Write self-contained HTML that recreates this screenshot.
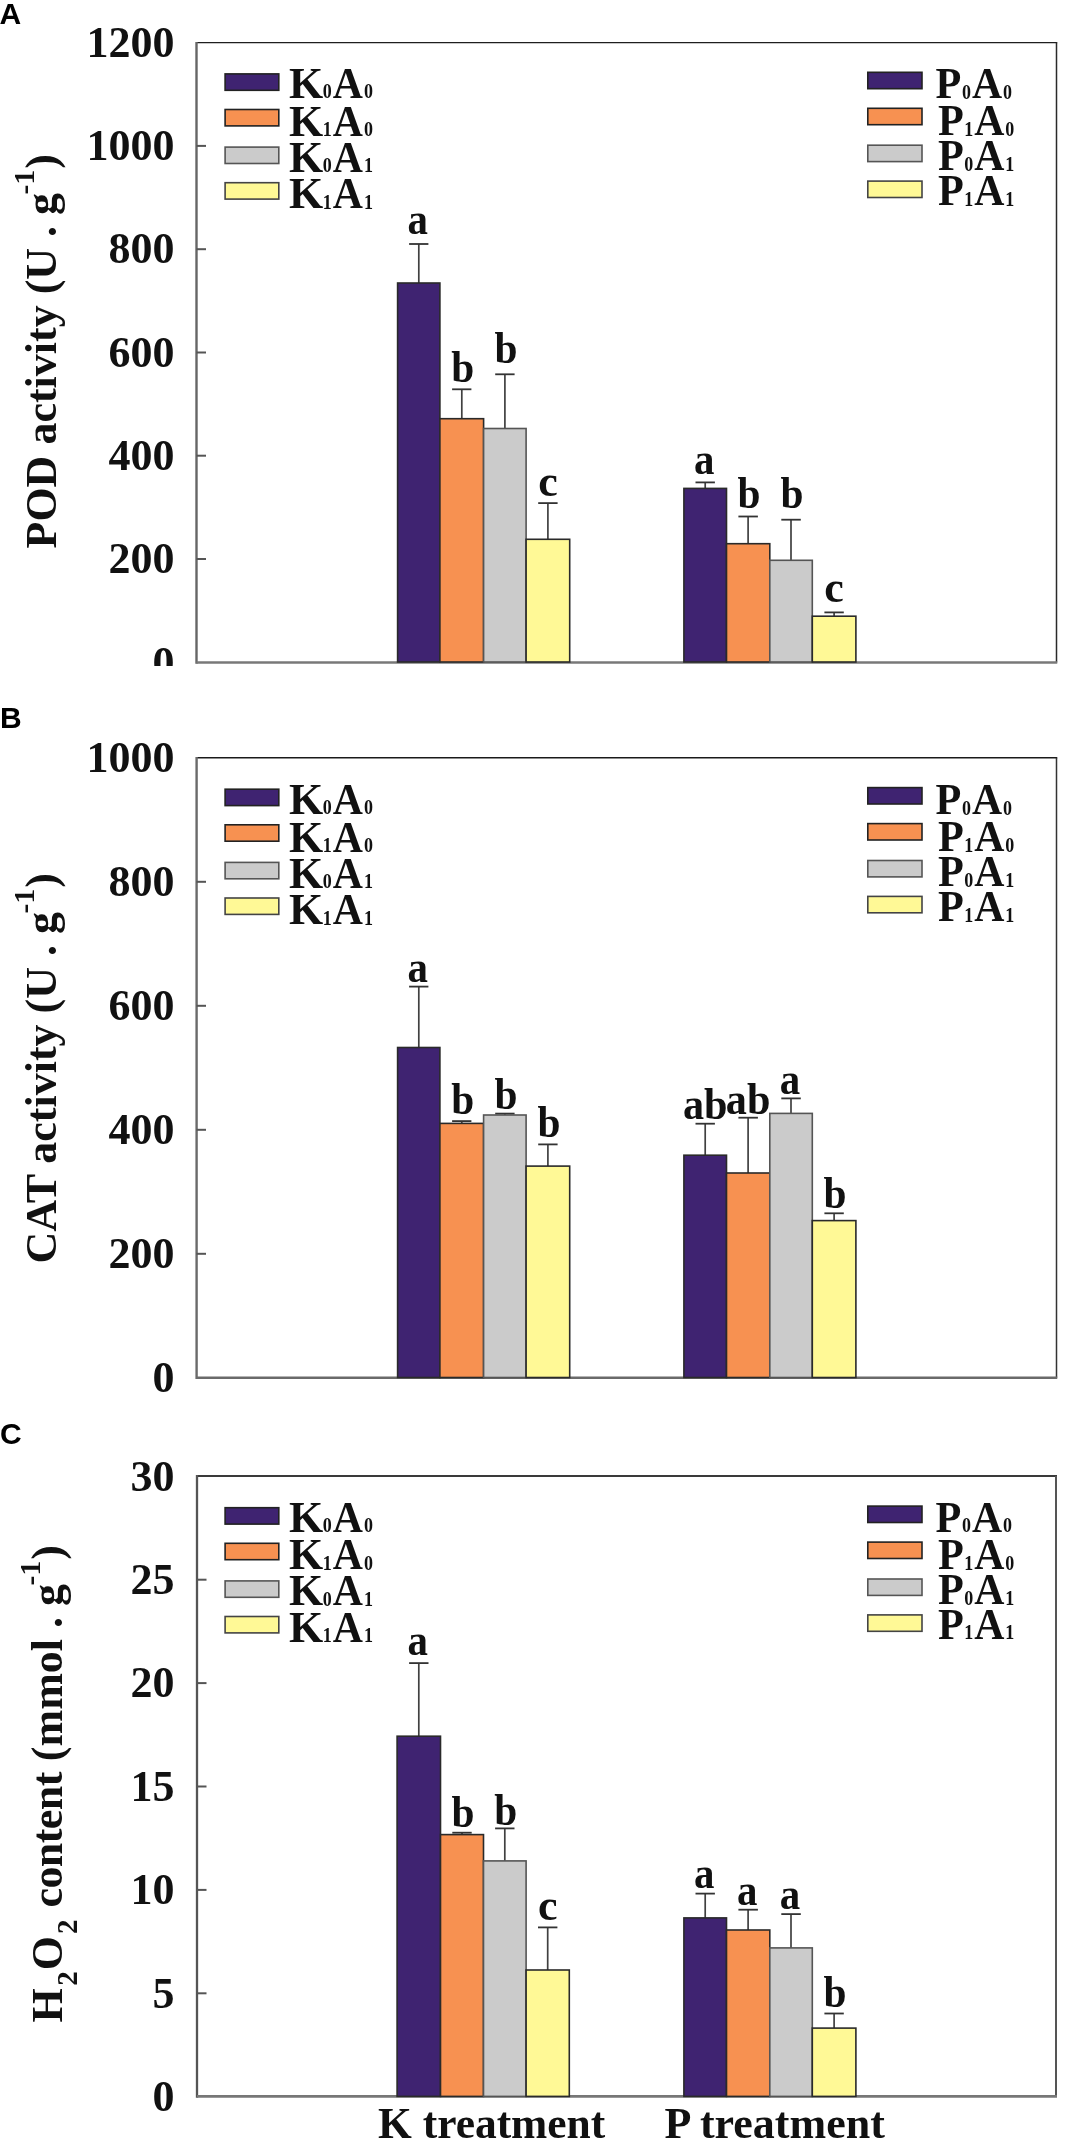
<!DOCTYPE html><html><head><meta charset="utf-8"><style>html,body{margin:0;padding:0;background:#fff;}body{width:1067px;height:2148px;overflow:hidden;}svg{display:block;will-change:transform;}</style></head><body>
<svg width="1067" height="2148" viewBox="0 0 1067 2148" font-family='"Liberation Serif", serif' font-weight="bold" fill="#111">
<text x="-0.6" y="24" font-family='"Liberation Sans", sans-serif' font-size="30" fill="#000">A</text>
<text x="0" y="727.6" font-family='"Liberation Sans", sans-serif' font-size="30" fill="#000">B</text>
<text x="-0.1" y="1443.8" font-family='"Liberation Sans", sans-serif' font-size="30" fill="#000">C</text>
<line x1="196.5" y1="42.6" x2="1057.25" y2="42.6" stroke="#1e1e1e" stroke-width="1.4"/>
<line x1="1056.5" y1="42.6" x2="1056.5" y2="662.5" stroke="#2a2a2a" stroke-width="1.5"/>
<line x1="196.5" y1="41.9" x2="196.5" y2="663.75" stroke="#666" stroke-width="2.4"/>
<line x1="196.5" y1="662.5" x2="1057.25" y2="662.5" stroke="#787878" stroke-width="2.5"/>
<line x1="196.5" y1="145.9" x2="206.0" y2="145.9" stroke="#555" stroke-width="2"/>
<line x1="196.5" y1="249.2" x2="206.0" y2="249.2" stroke="#555" stroke-width="2"/>
<line x1="196.5" y1="352.5" x2="206.0" y2="352.5" stroke="#555" stroke-width="2"/>
<line x1="196.5" y1="455.7" x2="206.0" y2="455.7" stroke="#555" stroke-width="2"/>
<line x1="196.5" y1="559.0" x2="206.0" y2="559.0" stroke="#555" stroke-width="2"/>
<svg x="0" y="0" width="1067" height="666" overflow="hidden">
<text x="174.5" y="56.9" text-anchor="end" font-size="44">1200</text>
<text x="174.5" y="160.1" text-anchor="end" font-size="44">1000</text>
<text x="174.5" y="263.4" text-anchor="end" font-size="44">800</text>
<text x="174.5" y="366.7" text-anchor="end" font-size="44">600</text>
<text x="174.5" y="470.0" text-anchor="end" font-size="44">400</text>
<text x="174.5" y="573.3" text-anchor="end" font-size="44">200</text>
<text x="174.5" y="676.6" text-anchor="end" font-size="44">0</text>
</svg>
<line x1="418.8" y1="244" x2="418.8" y2="283" stroke="#404040" stroke-width="1.7"/>
<line x1="409.1" y1="244" x2="428.4" y2="244" stroke="#333" stroke-width="1.8"/>
<line x1="461.8" y1="389.3" x2="461.8" y2="418.7" stroke="#404040" stroke-width="1.7"/>
<line x1="452.1" y1="389.3" x2="471.4" y2="389.3" stroke="#333" stroke-width="1.8"/>
<line x1="504.9" y1="374.3" x2="504.9" y2="428.5" stroke="#404040" stroke-width="1.7"/>
<line x1="495.2" y1="374.3" x2="514.6" y2="374.3" stroke="#333" stroke-width="1.8"/>
<line x1="547.9" y1="503.1" x2="547.9" y2="539.3" stroke="#404040" stroke-width="1.7"/>
<line x1="538.2" y1="503.1" x2="557.6" y2="503.1" stroke="#333" stroke-width="1.8"/>
<rect x="397.6" y="283" width="42.3" height="379.0" fill="#3f2371" stroke="#2a2a2a" stroke-width="1.6"/>
<rect x="439.9" y="418.7" width="43.7" height="243.3" fill="#f79151" stroke="#2a2a2a" stroke-width="1.6"/>
<rect x="483.6" y="428.5" width="42.5" height="233.5" fill="#cbcbcb" stroke="#555" stroke-width="1.6"/>
<rect x="526.1" y="539.3" width="43.6" height="122.7" fill="#fff996" stroke="#2a2a2a" stroke-width="1.6"/>
<text transform="translate(417.8,233.5) scale(0.93,1)" text-anchor="middle" font-size="44">a</text>
<text transform="translate(462.8,381.5) scale(0.94,1)" text-anchor="middle" font-size="44">b</text>
<text transform="translate(505.9,363.3) scale(0.94,1)" text-anchor="middle" font-size="44">b</text>
<text transform="translate(547.9,495.8) scale(1.0,1)" text-anchor="middle" font-size="44">c</text>
<line x1="705.2" y1="482.4" x2="705.2" y2="488.4" stroke="#404040" stroke-width="1.7"/>
<line x1="695.5" y1="482.4" x2="714.9" y2="482.4" stroke="#333" stroke-width="1.8"/>
<line x1="748.1" y1="516.5" x2="748.1" y2="543.7" stroke="#404040" stroke-width="1.7"/>
<line x1="738.4" y1="516.5" x2="757.9" y2="516.5" stroke="#333" stroke-width="1.8"/>
<line x1="791.0" y1="519.7" x2="791.0" y2="560.3" stroke="#404040" stroke-width="1.7"/>
<line x1="781.3" y1="519.7" x2="800.8" y2="519.7" stroke="#333" stroke-width="1.8"/>
<line x1="834.1" y1="612.4" x2="834.1" y2="616.2" stroke="#404040" stroke-width="1.7"/>
<line x1="824.4" y1="612.4" x2="843.8" y2="612.4" stroke="#333" stroke-width="1.8"/>
<rect x="683.9" y="488.4" width="42.6" height="173.6" fill="#3f2371" stroke="#2a2a2a" stroke-width="1.6"/>
<rect x="726.5" y="543.7" width="43.3" height="118.3" fill="#f79151" stroke="#2a2a2a" stroke-width="1.6"/>
<rect x="769.8" y="560.3" width="42.5" height="101.7" fill="#cbcbcb" stroke="#555" stroke-width="1.6"/>
<rect x="812.3" y="616.2" width="43.6" height="45.8" fill="#fff996" stroke="#2a2a2a" stroke-width="1.6"/>
<text transform="translate(704.2,473.5) scale(0.93,1)" text-anchor="middle" font-size="44">a</text>
<text transform="translate(749.1,508.3) scale(0.94,1)" text-anchor="middle" font-size="44">b</text>
<text transform="translate(792.0,508.3) scale(0.94,1)" text-anchor="middle" font-size="44">b</text>
<text transform="translate(834.1,602.3) scale(1.0,1)" text-anchor="middle" font-size="44">c</text>
<rect x="225.1" y="73.9" width="53.7" height="16.4" fill="#3f2371" stroke="#222" stroke-width="1.6"/>
<text transform="translate(289.1,97.9) scale(1.0,1)" font-size="44">K</text>
<text transform="translate(322.7,98.4) scale(0.9,1)" font-size="20">0</text>
<text transform="translate(332.8,97.9) scale(0.95,1)" font-size="44">A</text>
<text transform="translate(364.0,98.4) scale(0.9,1)" font-size="20">0</text>
<rect x="225.1" y="109.5" width="53.7" height="16.4" fill="#f79151" stroke="#222" stroke-width="1.6"/>
<text transform="translate(289.1,135.5) scale(1.0,1)" font-size="44">K</text>
<text transform="translate(322.7,136.0) scale(0.9,1)" font-size="20">1</text>
<text transform="translate(332.8,135.5) scale(0.95,1)" font-size="44">A</text>
<text transform="translate(364.0,136.0) scale(0.9,1)" font-size="20">0</text>
<rect x="225.1" y="147.1" width="53.7" height="16.4" fill="#cbcbcb" stroke="#555" stroke-width="1.6"/>
<text transform="translate(289.1,171.5) scale(1.0,1)" font-size="44">K</text>
<text transform="translate(322.7,172.0) scale(0.9,1)" font-size="20">0</text>
<text transform="translate(332.8,171.5) scale(0.95,1)" font-size="44">A</text>
<text transform="translate(364.0,172.0) scale(0.9,1)" font-size="20">1</text>
<rect x="225.1" y="182.7" width="53.7" height="16.4" fill="#fff996" stroke="#444" stroke-width="1.6"/>
<text transform="translate(289.1,208.0) scale(1.0,1)" font-size="44">K</text>
<text transform="translate(322.7,208.5) scale(0.9,1)" font-size="20">1</text>
<text transform="translate(332.8,208.0) scale(0.95,1)" font-size="44">A</text>
<text transform="translate(364.0,208.5) scale(0.9,1)" font-size="20">1</text>
<rect x="867.8" y="72.3" width="54.2" height="16.4" fill="#3f2371" stroke="#222" stroke-width="1.6"/>
<text transform="translate(935.6,98.0) scale(0.96,1)" font-size="44">P</text>
<text transform="translate(961.9,98.5) scale(0.9,1)" font-size="20">0</text>
<text transform="translate(971.9,98.0) scale(0.95,1)" font-size="44">A</text>
<text transform="translate(1003.0,98.5) scale(0.9,1)" font-size="20">0</text>
<rect x="867.8" y="108.3" width="54.2" height="16.4" fill="#f79151" stroke="#222" stroke-width="1.6"/>
<text transform="translate(937.9,135.2) scale(0.96,1)" font-size="44">P</text>
<text transform="translate(964.2,135.7) scale(0.9,1)" font-size="20">1</text>
<text transform="translate(974.2,135.2) scale(0.95,1)" font-size="44">A</text>
<text transform="translate(1005.3,135.7) scale(0.9,1)" font-size="20">0</text>
<rect x="867.8" y="145.2" width="54.2" height="16.4" fill="#cbcbcb" stroke="#555" stroke-width="1.6"/>
<text transform="translate(937.9,170.3) scale(0.96,1)" font-size="44">P</text>
<text transform="translate(964.2,170.8) scale(0.9,1)" font-size="20">0</text>
<text transform="translate(974.2,170.3) scale(0.95,1)" font-size="44">A</text>
<text transform="translate(1005.3,170.8) scale(0.9,1)" font-size="20">1</text>
<rect x="867.8" y="181.1" width="54.2" height="16.4" fill="#fff996" stroke="#444" stroke-width="1.6"/>
<text transform="translate(937.9,205.0) scale(0.96,1)" font-size="44">P</text>
<text transform="translate(964.2,205.5) scale(0.9,1)" font-size="20">1</text>
<text transform="translate(974.2,205.0) scale(0.95,1)" font-size="44">A</text>
<text transform="translate(1005.3,205.5) scale(0.9,1)" font-size="20">1</text>
<text transform="translate(55.5,548.5) rotate(-90)" font-size="44">POD activity (U . g<tspan font-size="29.5" dy="-22" dx="-1.5">-1</tspan><tspan dy="22" dx="1">)</tspan></text>
<line x1="196.6" y1="757.7" x2="1057.25" y2="757.7" stroke="#1a1a1a" stroke-width="1.5"/>
<line x1="1056.5" y1="757.7" x2="1056.5" y2="1377.7" stroke="#333" stroke-width="1.5"/>
<line x1="196.6" y1="756.95" x2="196.6" y2="1378.9" stroke="#6a6a6a" stroke-width="2.4"/>
<line x1="196.6" y1="1377.7" x2="1057.25" y2="1377.7" stroke="#6a6a6a" stroke-width="2.4"/>
<line x1="196.5" y1="881.8" x2="206.0" y2="881.8" stroke="#555" stroke-width="2"/>
<line x1="196.5" y1="1005.8" x2="206.0" y2="1005.8" stroke="#555" stroke-width="2"/>
<line x1="196.5" y1="1129.8" x2="206.0" y2="1129.8" stroke="#555" stroke-width="2"/>
<line x1="196.5" y1="1253.8" x2="206.0" y2="1253.8" stroke="#555" stroke-width="2"/>
<text x="174.5" y="772.1" text-anchor="end" font-size="44">1000</text>
<text x="174.5" y="896.1" text-anchor="end" font-size="44">800</text>
<text x="174.5" y="1020.1" text-anchor="end" font-size="44">600</text>
<text x="174.5" y="1144.0" text-anchor="end" font-size="44">400</text>
<text x="174.5" y="1268.0" text-anchor="end" font-size="44">200</text>
<text x="174.5" y="1392.0" text-anchor="end" font-size="44">0</text>
<line x1="418.8" y1="986.6" x2="418.8" y2="1047.5" stroke="#404040" stroke-width="1.7"/>
<line x1="409.1" y1="986.6" x2="428.4" y2="986.6" stroke="#333" stroke-width="1.8"/>
<line x1="461.8" y1="1121.1" x2="461.8" y2="1123.4" stroke="#404040" stroke-width="1.7"/>
<line x1="452.1" y1="1121.1" x2="471.4" y2="1121.1" stroke="#333" stroke-width="1.8"/>
<line x1="504.9" y1="1113.6" x2="504.9" y2="1115" stroke="#404040" stroke-width="1.7"/>
<line x1="495.2" y1="1113.6" x2="514.6" y2="1113.6" stroke="#333" stroke-width="1.8"/>
<line x1="547.9" y1="1144.4" x2="547.9" y2="1166.1" stroke="#404040" stroke-width="1.7"/>
<line x1="538.2" y1="1144.4" x2="557.6" y2="1144.4" stroke="#333" stroke-width="1.8"/>
<rect x="397.6" y="1047.5" width="42.3" height="330.0" fill="#3f2371" stroke="#2a2a2a" stroke-width="1.6"/>
<rect x="439.9" y="1123.4" width="43.7" height="254.1" fill="#f79151" stroke="#2a2a2a" stroke-width="1.6"/>
<rect x="483.6" y="1115" width="42.5" height="262.5" fill="#cbcbcb" stroke="#555" stroke-width="1.6"/>
<rect x="526.1" y="1166.1" width="43.6" height="211.4" fill="#fff996" stroke="#2a2a2a" stroke-width="1.6"/>
<text transform="translate(417.8,982) scale(0.93,1)" text-anchor="middle" font-size="44">a</text>
<text transform="translate(462.8,1114.3) scale(0.94,1)" text-anchor="middle" font-size="44">b</text>
<text transform="translate(505.9,1108.6) scale(0.94,1)" text-anchor="middle" font-size="44">b</text>
<text transform="translate(548.9,1136.7) scale(0.94,1)" text-anchor="middle" font-size="44">b</text>
<line x1="705.2" y1="1123.7" x2="705.2" y2="1155.2" stroke="#404040" stroke-width="1.7"/>
<line x1="695.5" y1="1123.7" x2="714.9" y2="1123.7" stroke="#333" stroke-width="1.8"/>
<line x1="748.1" y1="1117.7" x2="748.1" y2="1173" stroke="#404040" stroke-width="1.7"/>
<line x1="738.4" y1="1117.7" x2="757.9" y2="1117.7" stroke="#333" stroke-width="1.8"/>
<line x1="791.0" y1="1098.4" x2="791.0" y2="1113.4" stroke="#404040" stroke-width="1.7"/>
<line x1="781.3" y1="1098.4" x2="800.8" y2="1098.4" stroke="#333" stroke-width="1.8"/>
<line x1="834.1" y1="1213.3" x2="834.1" y2="1220.6" stroke="#404040" stroke-width="1.7"/>
<line x1="824.4" y1="1213.3" x2="843.8" y2="1213.3" stroke="#333" stroke-width="1.8"/>
<rect x="683.9" y="1155.2" width="42.6" height="222.3" fill="#3f2371" stroke="#2a2a2a" stroke-width="1.6"/>
<rect x="726.5" y="1173" width="43.3" height="204.5" fill="#f79151" stroke="#2a2a2a" stroke-width="1.6"/>
<rect x="769.8" y="1113.4" width="42.5" height="264.1" fill="#cbcbcb" stroke="#555" stroke-width="1.6"/>
<rect x="812.3" y="1220.6" width="43.6" height="156.9" fill="#fff996" stroke="#2a2a2a" stroke-width="1.6"/>
<text transform="translate(705.2,1119.3) scale(0.96,1)" text-anchor="middle" font-size="44">ab</text>
<text transform="translate(748.1,1113.7) scale(0.96,1)" text-anchor="middle" font-size="44">ab</text>
<text transform="translate(790.0,1093.5) scale(0.93,1)" text-anchor="middle" font-size="44">a</text>
<text transform="translate(835.1,1208.3) scale(0.94,1)" text-anchor="middle" font-size="44">b</text>
<rect x="225.1" y="789.2" width="53.7" height="16.4" fill="#3f2371" stroke="#222" stroke-width="1.6"/>
<text transform="translate(289.1,813.9) scale(1.0,1)" font-size="44">K</text>
<text transform="translate(322.7,814.4) scale(0.9,1)" font-size="20">0</text>
<text transform="translate(332.8,813.9) scale(0.95,1)" font-size="44">A</text>
<text transform="translate(364.0,814.4) scale(0.9,1)" font-size="20">0</text>
<rect x="225.1" y="824.8" width="53.7" height="16.4" fill="#f79151" stroke="#222" stroke-width="1.6"/>
<text transform="translate(289.1,851.5) scale(1.0,1)" font-size="44">K</text>
<text transform="translate(322.7,852.0) scale(0.9,1)" font-size="20">1</text>
<text transform="translate(332.8,851.5) scale(0.95,1)" font-size="44">A</text>
<text transform="translate(364.0,852.0) scale(0.9,1)" font-size="20">0</text>
<rect x="225.1" y="862.4" width="53.7" height="16.4" fill="#cbcbcb" stroke="#555" stroke-width="1.6"/>
<text transform="translate(289.1,887.5) scale(1.0,1)" font-size="44">K</text>
<text transform="translate(322.7,888.0) scale(0.9,1)" font-size="20">0</text>
<text transform="translate(332.8,887.5) scale(0.95,1)" font-size="44">A</text>
<text transform="translate(364.0,888.0) scale(0.9,1)" font-size="20">1</text>
<rect x="225.1" y="898.0" width="53.7" height="16.4" fill="#fff996" stroke="#444" stroke-width="1.6"/>
<text transform="translate(289.1,924.0) scale(1.0,1)" font-size="44">K</text>
<text transform="translate(322.7,924.5) scale(0.9,1)" font-size="20">1</text>
<text transform="translate(332.8,924.0) scale(0.95,1)" font-size="44">A</text>
<text transform="translate(364.0,924.5) scale(0.9,1)" font-size="20">1</text>
<rect x="867.8" y="787.6" width="54.2" height="16.4" fill="#3f2371" stroke="#222" stroke-width="1.6"/>
<text transform="translate(935.6,814.0) scale(0.96,1)" font-size="44">P</text>
<text transform="translate(961.9,814.5) scale(0.9,1)" font-size="20">0</text>
<text transform="translate(971.9,814.0) scale(0.95,1)" font-size="44">A</text>
<text transform="translate(1003.0,814.5) scale(0.9,1)" font-size="20">0</text>
<rect x="867.8" y="823.6" width="54.2" height="16.4" fill="#f79151" stroke="#222" stroke-width="1.6"/>
<text transform="translate(937.9,851.2) scale(0.96,1)" font-size="44">P</text>
<text transform="translate(964.2,851.7) scale(0.9,1)" font-size="20">1</text>
<text transform="translate(974.2,851.2) scale(0.95,1)" font-size="44">A</text>
<text transform="translate(1005.3,851.7) scale(0.9,1)" font-size="20">0</text>
<rect x="867.8" y="860.5" width="54.2" height="16.4" fill="#cbcbcb" stroke="#555" stroke-width="1.6"/>
<text transform="translate(937.9,886.3) scale(0.96,1)" font-size="44">P</text>
<text transform="translate(964.2,886.8) scale(0.9,1)" font-size="20">0</text>
<text transform="translate(974.2,886.3) scale(0.95,1)" font-size="44">A</text>
<text transform="translate(1005.3,886.8) scale(0.9,1)" font-size="20">1</text>
<rect x="867.8" y="896.4" width="54.2" height="16.4" fill="#fff996" stroke="#444" stroke-width="1.6"/>
<text transform="translate(937.9,921.0) scale(0.96,1)" font-size="44">P</text>
<text transform="translate(964.2,921.5) scale(0.9,1)" font-size="20">1</text>
<text transform="translate(974.2,921.0) scale(0.95,1)" font-size="44">A</text>
<text transform="translate(1005.3,921.5) scale(0.9,1)" font-size="20">1</text>
<text transform="translate(55.5,1263.5) rotate(-90)" font-size="44">CAT activity (U . g<tspan font-size="29.5" dy="-22" dx="-1.5">-1</tspan><tspan dy="22" dx="1">)</tspan></text>
<line x1="197.0" y1="1475.9" x2="1057.0" y2="1475.9" stroke="#3a3a3a" stroke-width="2"/>
<line x1="1056.0" y1="1475.9" x2="1056.0" y2="2096.4" stroke="#555" stroke-width="2"/>
<line x1="197.0" y1="1474.9" x2="197.0" y2="2097.7000000000003" stroke="#555" stroke-width="2.3"/>
<line x1="197.0" y1="2096.4" x2="1057.0" y2="2096.4" stroke="#777" stroke-width="2.6"/>
<line x1="197" y1="1579.7" x2="206.5" y2="1579.7" stroke="#555" stroke-width="2"/>
<line x1="197" y1="1683.1" x2="206.5" y2="1683.1" stroke="#555" stroke-width="2"/>
<line x1="197" y1="1786.5" x2="206.5" y2="1786.5" stroke="#555" stroke-width="2"/>
<line x1="197" y1="1889.9" x2="206.5" y2="1889.9" stroke="#555" stroke-width="2"/>
<line x1="197" y1="1993.3" x2="206.5" y2="1993.3" stroke="#555" stroke-width="2"/>
<text x="174.5" y="1490.5" text-anchor="end" font-size="44">30</text>
<text x="174.5" y="1594.0" text-anchor="end" font-size="44">25</text>
<text x="174.5" y="1697.3" text-anchor="end" font-size="44">20</text>
<text x="174.5" y="1800.8" text-anchor="end" font-size="44">15</text>
<text x="174.5" y="1904.2" text-anchor="end" font-size="44">10</text>
<text x="174.5" y="2007.5" text-anchor="end" font-size="44">5</text>
<text x="174.5" y="2110.9" text-anchor="end" font-size="44">0</text>
<line x1="418.8" y1="1663.1" x2="418.8" y2="1736.2" stroke="#404040" stroke-width="1.7"/>
<line x1="409.1" y1="1663.1" x2="428.5" y2="1663.1" stroke="#333" stroke-width="1.8"/>
<line x1="462.0" y1="1832.7" x2="462.0" y2="1834.6" stroke="#404040" stroke-width="1.7"/>
<line x1="452.3" y1="1832.7" x2="471.7" y2="1832.7" stroke="#333" stroke-width="1.8"/>
<line x1="504.8" y1="1828.4" x2="504.8" y2="1860.9" stroke="#404040" stroke-width="1.7"/>
<line x1="495.1" y1="1828.4" x2="514.5" y2="1828.4" stroke="#333" stroke-width="1.8"/>
<line x1="547.7" y1="1927.4" x2="547.7" y2="1970" stroke="#404040" stroke-width="1.7"/>
<line x1="538.0" y1="1927.4" x2="557.4" y2="1927.4" stroke="#333" stroke-width="1.8"/>
<rect x="397.1" y="1736.2" width="43.4" height="360.2" fill="#3f2371" stroke="#2a2a2a" stroke-width="1.6"/>
<rect x="440.5" y="1834.6" width="43.0" height="261.8" fill="#f79151" stroke="#2a2a2a" stroke-width="1.6"/>
<rect x="483.5" y="1860.9" width="42.6" height="235.5" fill="#cbcbcb" stroke="#555" stroke-width="1.6"/>
<rect x="526.1" y="1970" width="43.2" height="126.4" fill="#fff996" stroke="#2a2a2a" stroke-width="1.6"/>
<text transform="translate(417.8,1655.3) scale(0.93,1)" text-anchor="middle" font-size="44">a</text>
<text transform="translate(463.0,1826.8) scale(0.94,1)" text-anchor="middle" font-size="44">b</text>
<text transform="translate(505.8,1824.9) scale(0.94,1)" text-anchor="middle" font-size="44">b</text>
<text transform="translate(547.7,1919.6) scale(1.0,1)" text-anchor="middle" font-size="44">c</text>
<line x1="705.2" y1="1893.6" x2="705.2" y2="1917.9" stroke="#404040" stroke-width="1.7"/>
<line x1="695.5" y1="1893.6" x2="714.9" y2="1893.6" stroke="#333" stroke-width="1.8"/>
<line x1="748.1" y1="1909.7" x2="748.1" y2="1930" stroke="#404040" stroke-width="1.7"/>
<line x1="738.4" y1="1909.7" x2="757.9" y2="1909.7" stroke="#333" stroke-width="1.8"/>
<line x1="791.0" y1="1914.1" x2="791.0" y2="1947.9" stroke="#404040" stroke-width="1.7"/>
<line x1="781.3" y1="1914.1" x2="800.8" y2="1914.1" stroke="#333" stroke-width="1.8"/>
<line x1="834.1" y1="2013.5" x2="834.1" y2="2028.1" stroke="#404040" stroke-width="1.7"/>
<line x1="824.4" y1="2013.5" x2="843.8" y2="2013.5" stroke="#333" stroke-width="1.8"/>
<rect x="683.9" y="1917.9" width="42.6" height="178.5" fill="#3f2371" stroke="#2a2a2a" stroke-width="1.6"/>
<rect x="726.5" y="1930" width="43.3" height="166.4" fill="#f79151" stroke="#2a2a2a" stroke-width="1.6"/>
<rect x="769.8" y="1947.9" width="42.5" height="148.5" fill="#cbcbcb" stroke="#555" stroke-width="1.6"/>
<rect x="812.3" y="2028.1" width="43.6" height="68.3" fill="#fff996" stroke="#2a2a2a" stroke-width="1.6"/>
<text transform="translate(704.2,1887.6) scale(0.93,1)" text-anchor="middle" font-size="44">a</text>
<text transform="translate(747.1,1905.3) scale(0.93,1)" text-anchor="middle" font-size="44">a</text>
<text transform="translate(790.0,1909) scale(0.93,1)" text-anchor="middle" font-size="44">a</text>
<text transform="translate(835.1,2006.8) scale(0.94,1)" text-anchor="middle" font-size="44">b</text>
<rect x="225.1" y="1507.7" width="53.7" height="16.4" fill="#3f2371" stroke="#222" stroke-width="1.6"/>
<text transform="translate(289.1,1531.7) scale(1.0,1)" font-size="44">K</text>
<text transform="translate(322.7,1532.2) scale(0.9,1)" font-size="20">0</text>
<text transform="translate(332.8,1531.7) scale(0.95,1)" font-size="44">A</text>
<text transform="translate(364.0,1532.2) scale(0.9,1)" font-size="20">0</text>
<rect x="225.1" y="1543.3" width="53.7" height="16.4" fill="#f79151" stroke="#222" stroke-width="1.6"/>
<text transform="translate(289.1,1569.3) scale(1.0,1)" font-size="44">K</text>
<text transform="translate(322.7,1569.8) scale(0.9,1)" font-size="20">1</text>
<text transform="translate(332.8,1569.3) scale(0.95,1)" font-size="44">A</text>
<text transform="translate(364.0,1569.8) scale(0.9,1)" font-size="20">0</text>
<rect x="225.1" y="1580.9" width="53.7" height="16.4" fill="#cbcbcb" stroke="#555" stroke-width="1.6"/>
<text transform="translate(289.1,1605.3) scale(1.0,1)" font-size="44">K</text>
<text transform="translate(322.7,1605.8) scale(0.9,1)" font-size="20">0</text>
<text transform="translate(332.8,1605.3) scale(0.95,1)" font-size="44">A</text>
<text transform="translate(364.0,1605.8) scale(0.9,1)" font-size="20">1</text>
<rect x="225.1" y="1616.5" width="53.7" height="16.4" fill="#fff996" stroke="#444" stroke-width="1.6"/>
<text transform="translate(289.1,1641.8) scale(1.0,1)" font-size="44">K</text>
<text transform="translate(322.7,1642.3) scale(0.9,1)" font-size="20">1</text>
<text transform="translate(332.8,1641.8) scale(0.95,1)" font-size="44">A</text>
<text transform="translate(364.0,1642.3) scale(0.9,1)" font-size="20">1</text>
<rect x="867.8" y="1506.1" width="54.2" height="16.4" fill="#3f2371" stroke="#222" stroke-width="1.6"/>
<text transform="translate(935.6,1531.8) scale(0.96,1)" font-size="44">P</text>
<text transform="translate(961.9,1532.3) scale(0.9,1)" font-size="20">0</text>
<text transform="translate(971.9,1531.8) scale(0.95,1)" font-size="44">A</text>
<text transform="translate(1003.0,1532.3) scale(0.9,1)" font-size="20">0</text>
<rect x="867.8" y="1542.1" width="54.2" height="16.4" fill="#f79151" stroke="#222" stroke-width="1.6"/>
<text transform="translate(937.9,1569.0) scale(0.96,1)" font-size="44">P</text>
<text transform="translate(964.2,1569.5) scale(0.9,1)" font-size="20">1</text>
<text transform="translate(974.2,1569.0) scale(0.95,1)" font-size="44">A</text>
<text transform="translate(1005.3,1569.5) scale(0.9,1)" font-size="20">0</text>
<rect x="867.8" y="1579.0" width="54.2" height="16.4" fill="#cbcbcb" stroke="#555" stroke-width="1.6"/>
<text transform="translate(937.9,1604.1) scale(0.96,1)" font-size="44">P</text>
<text transform="translate(964.2,1604.6) scale(0.9,1)" font-size="20">0</text>
<text transform="translate(974.2,1604.1) scale(0.95,1)" font-size="44">A</text>
<text transform="translate(1005.3,1604.6) scale(0.9,1)" font-size="20">1</text>
<rect x="867.8" y="1614.9" width="54.2" height="16.4" fill="#fff996" stroke="#444" stroke-width="1.6"/>
<text transform="translate(937.9,1638.8) scale(0.96,1)" font-size="44">P</text>
<text transform="translate(964.2,1639.3) scale(0.9,1)" font-size="20">1</text>
<text transform="translate(974.2,1638.8) scale(0.95,1)" font-size="44">A</text>
<text transform="translate(1005.3,1639.3) scale(0.9,1)" font-size="20">1</text>
<text transform="translate(61.8,2022.5) rotate(-90)" font-size="44">H<tspan font-size="29" dy="15" dx="2.5">2</tspan><tspan dy="-15" dx="1">O</tspan><tspan font-size="29" dy="15" dx="2">2</tspan><tspan dy="-15" dx="1.5" letter-spacing="-0.55"> content</tspan><tspan> (mmol . g</tspan><tspan font-size="29.5" dy="-21.5" dx="-1.5">-1</tspan><tspan dy="21.5" dx="1">)</tspan></text>
<text transform="translate(378,2138) scale(0.988,1)" font-size="44">K treatment</text>
<text x="664.5" y="2138" font-size="44">P treatment</text>
</svg></body></html>
